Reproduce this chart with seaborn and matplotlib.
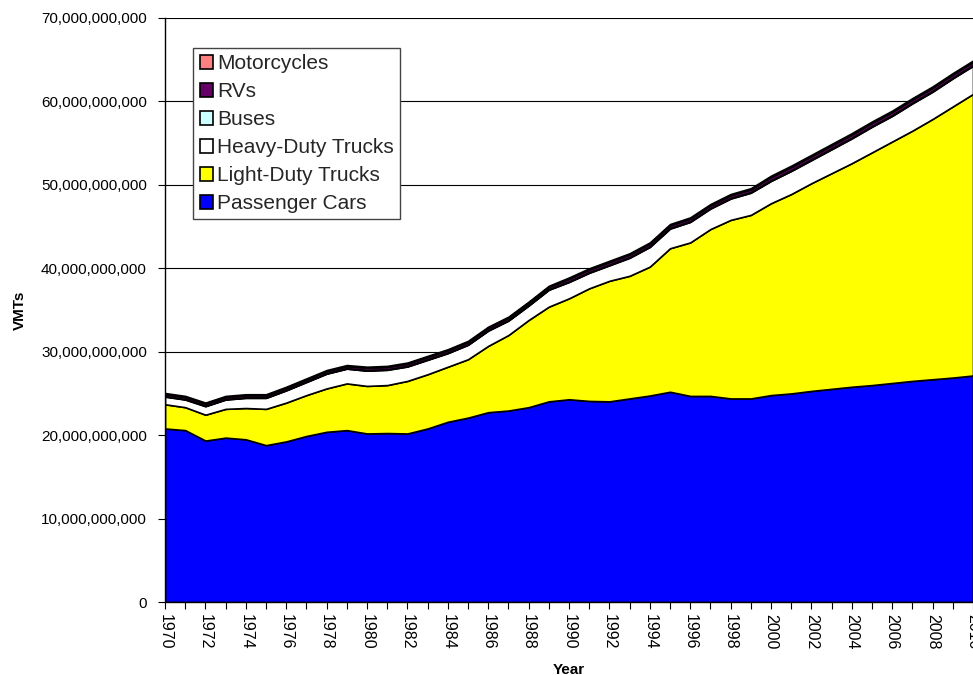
import matplotlib
matplotlib.use("Agg")
import matplotlib.pyplot as plt
import seaborn as sns
import numpy as np
from matplotlib.ticker import FuncFormatter, MultipleLocator

years = list(range(1970, 2011))

# values in billions of VMT
passenger_cars = [20.8, 20.6, 19.35, 19.7, 19.5, 18.8, 19.25, 19.9, 20.4, 20.6,
                  20.2, 20.25, 20.2, 20.8, 21.6, 22.1, 22.75, 22.95, 23.35, 24.05,
                  24.3, 24.1, 24.05, 24.4, 24.75, 25.2, 24.7, 24.7, 24.4, 24.4,
                  24.8, 25.0, 25.3, 25.55, 25.8, 26.0, 26.25, 26.5, 26.7, 26.9, 27.15]
light_duty_trucks = [2.9, 2.75, 3.1, 3.45, 3.75, 4.35, 4.65, 4.9, 5.2, 5.6,
                     5.7, 5.75, 6.3, 6.5, 6.6, 7.0, 7.95, 9.05, 10.45, 11.35,
                     12.1, 13.5, 14.45, 14.7, 15.45, 17.2, 18.4, 20.0, 21.4, 22.0,
                     23.0, 23.9, 24.9, 25.85, 26.8, 27.9, 28.95, 30.0, 31.2, 32.5, 33.75]
heavy_duty_trucks = [0.92, 0.92, 1.02, 1.12, 1.22, 1.32, 1.47, 1.57, 1.77, 1.77,
                     1.83, 1.83, 1.73, 1.73, 1.63, 1.73, 1.83, 1.73, 1.73, 2.03,
                     1.96, 1.86, 1.86, 2.16, 2.36, 2.36, 2.46, 2.46, 2.56, 2.66,
                     2.67, 2.77, 2.77, 2.87, 2.97, 3.07, 3.07, 3.27, 3.27, 3.37, 3.37]
buses = [0.06, 0.06, 0.06, 0.06, 0.06, 0.06, 0.06, 0.06, 0.06, 0.06,
         0.07, 0.07, 0.07, 0.07, 0.07, 0.07, 0.07, 0.07, 0.07, 0.07,
         0.08, 0.08, 0.08, 0.08, 0.08, 0.08, 0.08, 0.08, 0.08, 0.08,
         0.09, 0.09, 0.09, 0.09, 0.09, 0.09, 0.09, 0.09, 0.09, 0.09, 0.09]
rvs = [0.25, 0.25, 0.25, 0.25, 0.25, 0.25, 0.25, 0.25, 0.25, 0.25,
       0.28, 0.28, 0.28, 0.28, 0.28, 0.28, 0.28, 0.28, 0.28, 0.28,
       0.32, 0.32, 0.32, 0.32, 0.32, 0.32, 0.32, 0.32, 0.32, 0.32,
       0.38, 0.38, 0.38, 0.38, 0.38, 0.38, 0.38, 0.38, 0.38, 0.38, 0.38]
motorcycles = [0.12, 0.12, 0.12, 0.12, 0.12, 0.12, 0.12, 0.12, 0.12, 0.12,
               0.12, 0.12, 0.12, 0.12, 0.12, 0.12, 0.12, 0.12, 0.12, 0.12,
               0.14, 0.14, 0.14, 0.14, 0.14, 0.14, 0.14, 0.14, 0.14, 0.14,
               0.16, 0.16, 0.16, 0.16, 0.16, 0.16, 0.16, 0.16, 0.16, 0.16, 0.16]

series_names = ["Passenger Cars", "Light-Duty Trucks", "Heavy-Duty Trucks",
                "Buses", "RVs", "Motorcycles"]
series_colors = ["#0000FF", "#FFFF00", "#FFFFFF", "#CCFFFF", "#660066", "#FF8080"]

sns.set_theme(style="white")
plt.rcParams['font.family'] = ['Liberation Sans', 'DejaVu Sans']

fig = plt.figure(figsize=(9.73, 6.75), dpi=100)
ax = fig.add_axes([165 / 973, 1 - 602 / 675, 1 - 165 / 973, (602 - 18) / 675])

data = [np.array(s) * 1e9 for s in [passenger_cars, light_duty_trucks, heavy_duty_trucks,
                                     buses, rvs, motorcycles]]
polys = ax.stackplot(years, *data, colors=series_colors, labels=series_names,
                     edgecolor="black", linewidth=1.2, zorder=2)

ax.set_xlim(1970, 2010)
ax.set_ylim(0, 70e9)
ax.yaxis.set_major_locator(MultipleLocator(10e9))
ax.yaxis.set_major_formatter(FuncFormatter(lambda v, p: f"{int(round(v)):,}"))
ax.xaxis.set_major_locator(MultipleLocator(2))
ax.xaxis.set_minor_locator(MultipleLocator(1))
ax.xaxis.set_major_formatter(FuncFormatter(lambda v, p: f"{int(v)}"))

ax.grid(False)
ax.yaxis.grid(True, color="black", linewidth=0.8, zorder=0)
ax.set_axisbelow(True)

for side in ["top", "right"]:
    ax.spines[side].set_visible(False)
for side in ["left", "bottom"]:
    ax.spines[side].set_color("black")
    ax.spines[side].set_linewidth(1.0)
    ax.spines[side].set_zorder(5)

ax.tick_params(axis="y", which="major", direction="out", length=5, width=0.8,
               color="black", left=True, labelsize=11, labelcolor="black", pad=8)
ax.tick_params(axis="x", which="both", direction="out", length=5, width=0.8,
               color="black", bottom=True, labelsize=11.5, labelcolor="black", pad=4)
plt.setp(ax.get_xticklabels(), rotation=270, ha="center", va="top")

ax.set_xlabel("Year", fontsize=11, fontweight="bold", color="black", labelpad=9)
ax.set_ylabel("VMTs", fontsize=11, fontweight="bold", color="black", labelpad=10)

handles, labels = ax.get_legend_handles_labels()
leg = ax.legend(handles[::-1], labels[::-1], loc="upper left",
                bbox_to_anchor=(0.035, 0.9486), fontsize=15, frameon=True,
                fancybox=False, edgecolor="#444444", framealpha=1,
                handlelength=0.65, handleheight=0.65, handletextpad=0.2,
                labelspacing=0.43, borderpad=0.3, borderaxespad=0)
leg.get_frame().set_linewidth(1.0)
for h in leg.legend_handles:
    h.set_edgecolor("black")
    h.set_linewidth(1.2)

fig.savefig("out.png", dpi=100)
